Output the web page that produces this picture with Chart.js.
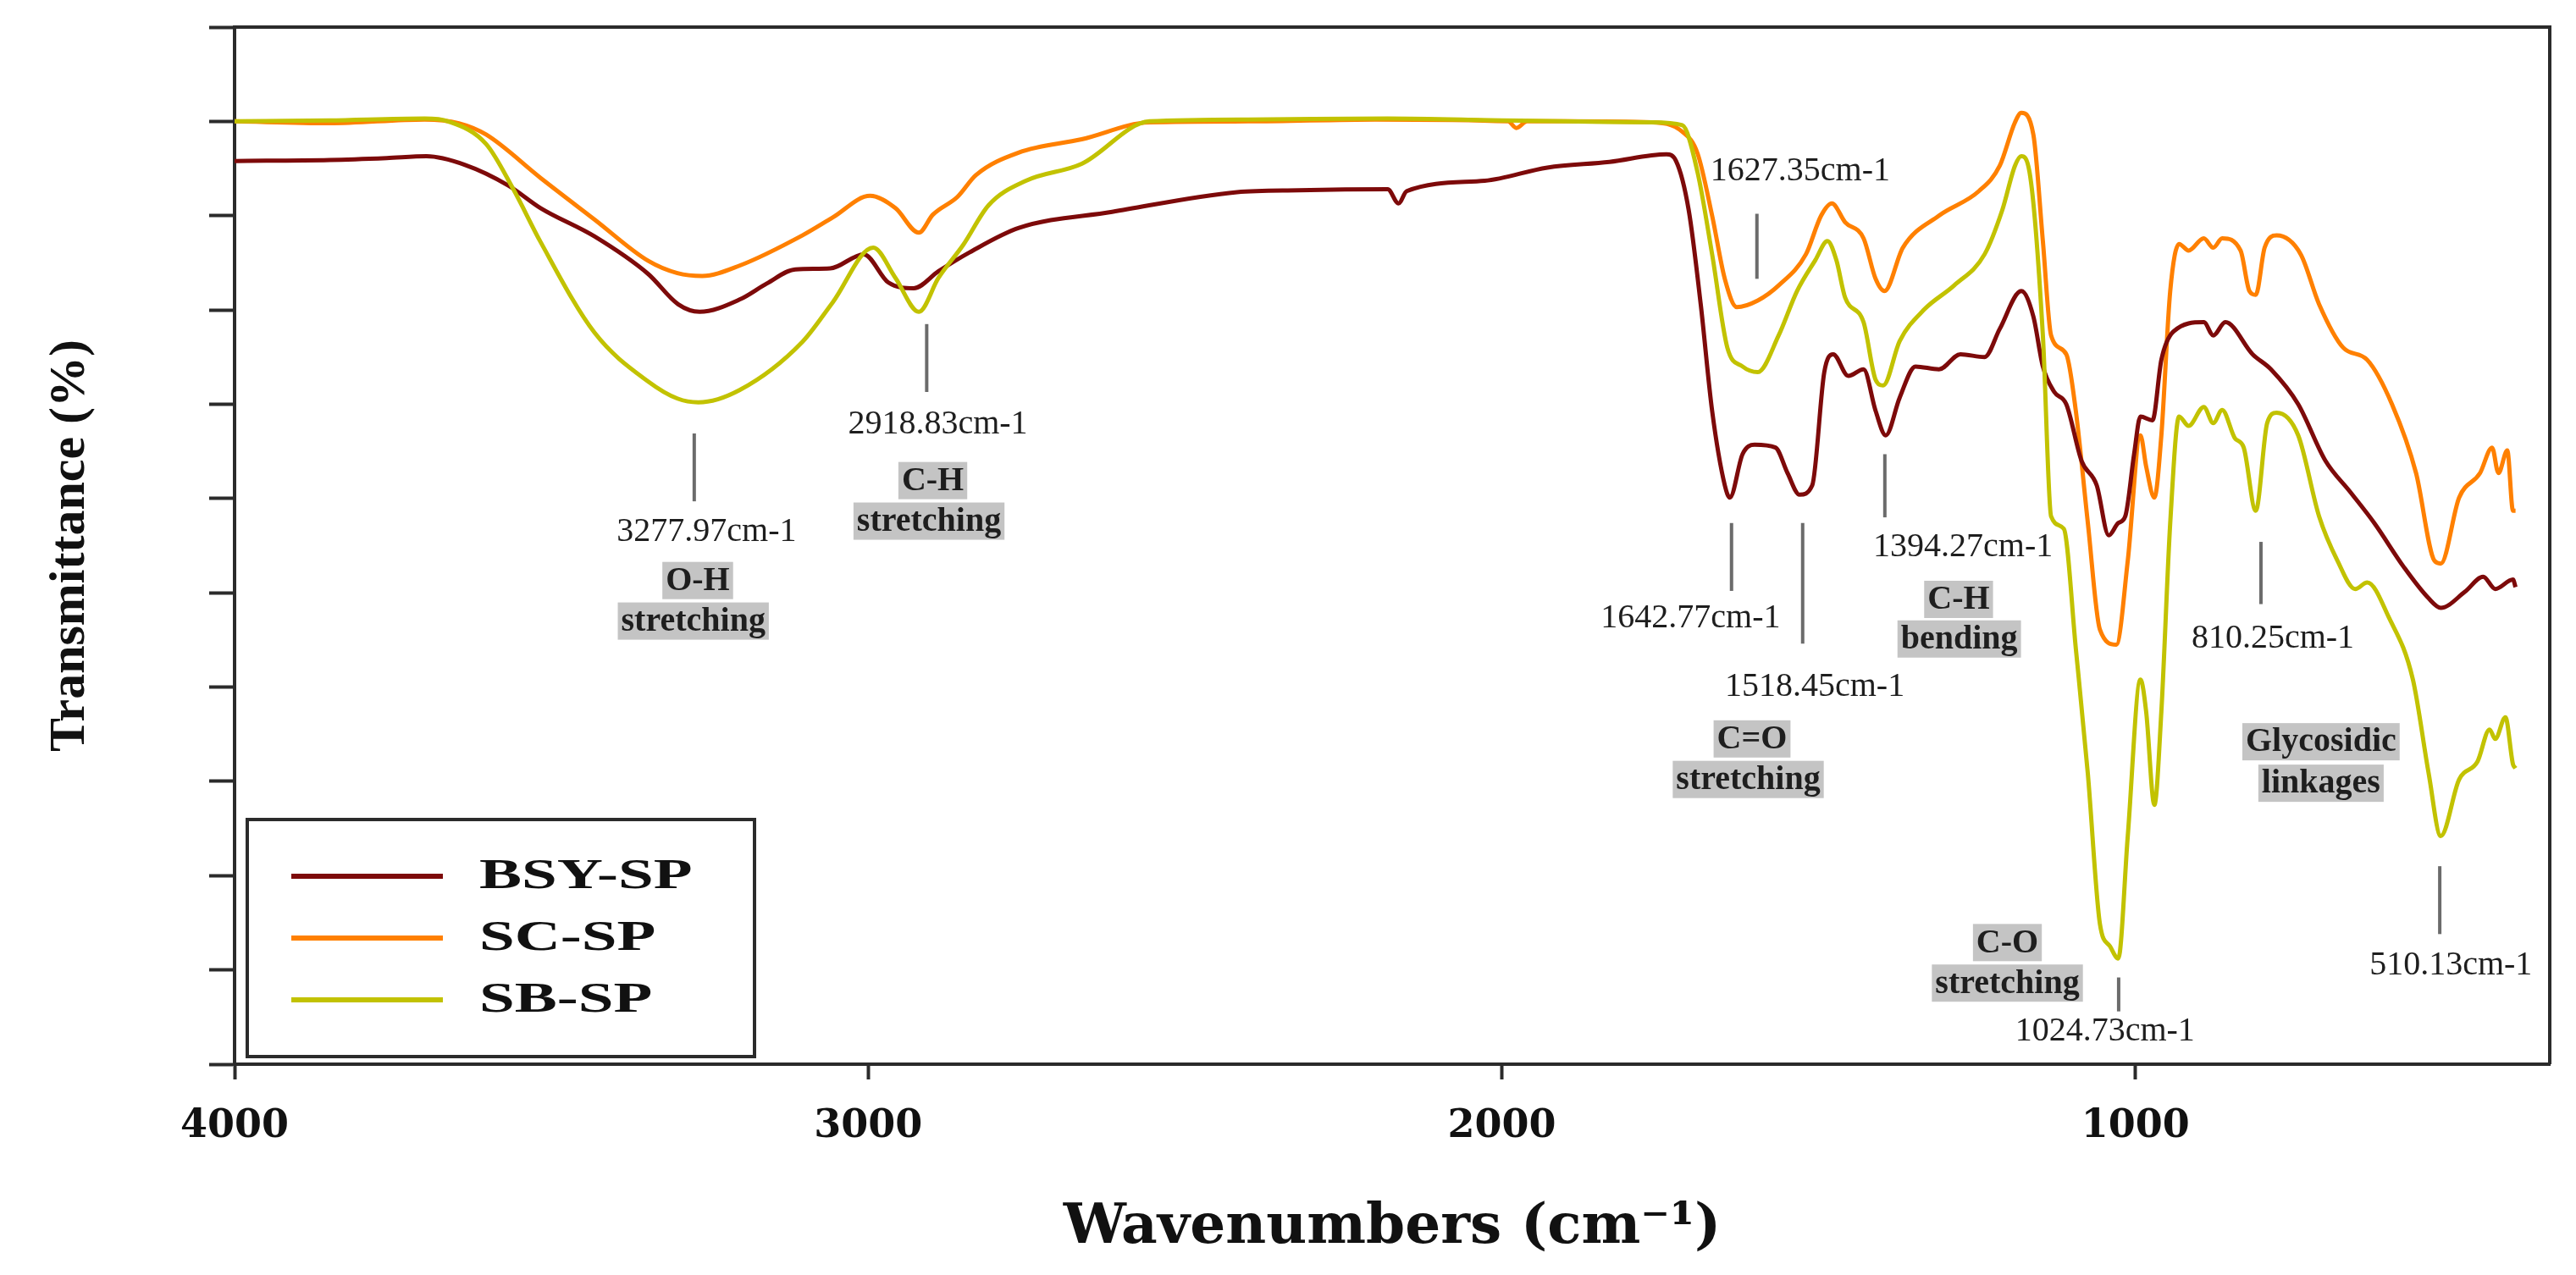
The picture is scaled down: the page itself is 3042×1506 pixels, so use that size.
<!DOCTYPE html>
<html>
<head>
<meta charset="utf-8">
<title>FTIR spectra</title>
<script src="https://cdn.jsdelivr.net/npm/chart.js@4.4.1/dist/chart.umd.min.js"></script>
<style>
    html, body { margin: 0; padding: 0; background: #ffffff; }
    #wrap { width: 3042px; height: 1506px; position: relative; }
</style>
</head>
<body>
<div id="wrap"><canvas id="ftirChart"></canvas></div>
<script>
const seriesNames = ["BSY-SP", "SC-SP", "SB-SP"];
const seriesColors = ["#7d0a0a", "#ff8000", "#c2c200"];

// BSY-SP
const bsyWavenumber = [4000, 3850, 3760, 3697, 3637, 3568, 3517, 3432, 3347, 3300, 3266, 3203, 3160, 3115, 3060, 3007, 2968, 2928, 2889, 2840, 2762, 2615, 2418, 2321, 2180, 2163, 2150, 2027, 1928, 1830, 1740, 1725, 1705, 1686, 1668, 1648, 1640, 1620, 1601, 1568, 1549, 1530, 1510, 1491, 1477, 1453, 1429, 1410, 1394, 1372, 1347, 1310, 1276, 1238, 1214, 1180, 1161, 1146, 1128, 1109, 1085, 1061, 1042, 1027, 1016, 1002, 992, 973, 959, 940, 892, 877, 858, 815, 786, 743, 700, 661, 623, 576, 537, 518, 480, 451, 432, 404, 400];
const bsyTransmittance = [95.8, 95.9, 96.1, 96.3, 95.4, 93.2, 90.8, 87.8, 83.8, 80.6, 79.8, 81.1, 82.8, 84.3, 84.4, 85.9, 82.9, 82.3, 84.1, 86.1, 88.7, 90.4, 92.5, 92.7, 92.8, 91.3, 92.6, 93.7, 95.1, 95.7, 96.5, 95.8, 90.6, 80.6, 69.3, 61.4, 60.1, 64.7, 65.7, 65.4, 62.7, 60.4, 61.4, 73.4, 75.3, 73.0, 73.7, 69.3, 66.7, 70.7, 74.0, 73.7, 75.3, 75.0, 78.0, 82.0, 79.3, 74.0, 71.3, 70.0, 64.0, 61.4, 56.1, 57.4, 58.1, 64.7, 68.7, 68.3, 74.7, 77.7, 78.7, 77.3, 78.7, 75.3, 73.7, 70.0, 64.0, 60.7, 57.4, 52.7, 49.4, 48.4, 50.1, 51.7, 50.4, 51.4, 50.6];

// SC-SP
const scWavenumber = [4000, 3850, 3700, 3646, 3603, 3517, 3432, 3347, 3301, 3262, 3203, 3104, 3056, 2997, 2957, 2920, 2898, 2859, 2830, 2762, 2663, 2556, 2400, 2200, 1990, 1977, 1960, 1900, 1763, 1715, 1691, 1668, 1648, 1629, 1596, 1563, 1520, 1496, 1479, 1458, 1429, 1410, 1396, 1367, 1310, 1247, 1214, 1190, 1180, 1161, 1146, 1133, 1109, 1094, 1075, 1056, 1030, 1012, 992, 983, 970, 959, 945, 931, 916, 892, 877, 863, 834, 820, 810, 796, 777, 739, 710, 672, 634, 595, 557, 528, 518, 489, 456, 437, 427, 413, 404, 400];
const scTransmittance = [100.0, 99.8, 100.2, 99.8, 98.6, 94.0, 89.6, 85.2, 83.9, 83.6, 84.7, 87.9, 89.8, 92.1, 90.8, 88.2, 90.1, 92.0, 94.3, 96.7, 98.1, 99.9, 100.0, 100.2, 100.0, 99.3, 100.0, 100.0, 99.9, 98.9, 96.6, 90.0, 83.3, 80.3, 81.0, 82.6, 85.9, 90.0, 91.3, 89.3, 87.6, 83.3, 82.0, 86.6, 90.0, 92.6, 95.3, 99.9, 100.9, 98.6, 87.3, 77.3, 75.3, 69.3, 57.4, 46.1, 44.5, 53.4, 66.7, 63.4, 60.1, 66.7, 82.0, 87.0, 86.3, 87.6, 86.6, 87.6, 86.3, 82.0, 81.6, 86.6, 87.9, 85.9, 80.6, 76.0, 74.7, 70.0, 62.7, 53.4, 53.1, 60.1, 62.7, 65.4, 62.7, 65.1, 58.7, 58.7];

// SB-SP
const sbWavenumber = [4000, 3850, 3700, 3663, 3603, 3560, 3517, 3432, 3347, 3301, 3268, 3203, 3104, 3056, 2992, 2957, 2920, 2889, 2850, 2810, 2751, 2663, 2556, 2400, 2180, 2000, 1900, 1763, 1715, 1691, 1668, 1644, 1620, 1596, 1563, 1534, 1505, 1486, 1472, 1458, 1429, 1410, 1398, 1372, 1334, 1286, 1238, 1210, 1190, 1180, 1167, 1146, 1133, 1113, 1094, 1075, 1056, 1040, 1027, 1012, 992, 983, 970, 959, 945, 931, 916, 892, 877, 863, 843, 829, 810, 792, 777, 743, 710, 681, 653, 634, 600, 562, 537, 518, 489, 460, 441, 432, 416, 404, 400];
const sbTransmittance = [100.0, 100.1, 100.3, 100.0, 97.6, 92.8, 87.2, 77.6, 72.4, 70.6, 70.2, 71.5, 76.6, 80.8, 86.6, 83.4, 79.8, 83.4, 86.9, 91.1, 93.7, 95.5, 100.0, 100.2, 100.3, 100.1, 100.0, 99.9, 99.6, 94.6, 85.9, 76.0, 74.0, 73.4, 77.3, 82.0, 85.3, 87.3, 85.3, 81.3, 78.7, 72.6, 72.0, 76.7, 80.0, 82.6, 85.9, 90.6, 95.3, 96.3, 94.6, 77.3, 58.1, 56.8, 44.1, 30.8, 14.9, 12.5, 11.2, 24.2, 40.8, 37.4, 27.5, 37.4, 57.4, 68.7, 67.7, 69.7, 68.0, 69.4, 66.4, 65.4, 58.7, 68.0, 69.1, 66.7, 58.1, 53.4, 50.4, 51.1, 47.4, 40.8, 30.8, 24.2, 30.2, 32.1, 35.5, 34.5, 36.8, 31.8, 31.4];

const xTickValues = [4000, 3000, 2000, 1000];
const xMin = 346;
const xMax = 4000;
const yMin = 0;
const yMax = 110;
const yStep = 10;

// short vertical lines under the marked bands
const peakMarkers = [
    { wn: 3274.5, top: 66.9, bottom: 59.7 },
    { wn: 2907.6, top: 78.5, bottom: 71.3 },
    { wn: 1597.3, top: 90.2, bottom: 83.3 },
    { wn: 1637.4, top: 57.4, bottom: 50.2 },
    { wn: 1525.1, top: 57.4, bottom: 44.6 },
    { wn: 1395.4, top: 64.7, bottom: 58.0 },
    { wn: 1026.4, top: 9.2, bottom: 5.6 },
    { wn: 801.8, top: 55.4, bottom: 48.8 },
    { wn: 519.6, top: 21.0, bottom: 13.8 }
];

const peakLabels = [
    { text: "3277.97cm-1", wn: 3255, t: 56.4 },
    { text: "2918.83cm-1", wn: 2890, t: 67.8 },
    { text: "1627.35cm-1", wn: 1529, t: 94.7 },
    { text: "1642.77cm-1", wn: 1702, t: 47.3 },
    { text: "1518.45cm-1", wn: 1506, t: 40.0 },
    { text: "1394.27cm-1", wn: 1272, t: 54.8 },
    { text: "1024.73cm-1", wn: 1048, t: 3.5 },
    { text: "810.25cm-1", wn: 783, t: 45.1 },
    { text: "510.13cm-1", wn: 502, t: 10.5 }
];

const groupLabels = [
    { text: "O-H", wn: 3269, t: 51.3 },
    { text: "stretching", wn: 3276, t: 47.0 },
    { text: "C-H", wn: 2898, t: 61.9 },
    { text: "stretching", wn: 2904, t: 57.6 },
    { text: "C=O", wn: 1605, t: 34.5 },
    { text: "stretching", wn: 1611, t: 30.2 },
    { text: "C-H", wn: 1279, t: 49.3 },
    { text: "bending", wn: 1278, t: 45.1 },
    { text: "C-O", wn: 1202, t: 12.9 },
    { text: "stretching", wn: 1202, t: 8.6 },
    { text: "Glycosidic", wn: 707, t: 34.2 },
    { text: "linkages", wn: 707, t: 29.8 }
];

const toPoints = (xs, ys) => {
    const points = [];

    for (let i = 0; i < xs.length; i++) {
        points.push({ x: xs[i], y: ys[i] });
    }

    return points;
};

const frameColor = "#2b2b2b";

const framePlugin = {
    id: "frame",
    afterDraw: (chart) => {
        const ctx = chart.ctx;
        const area = chart.chartArea;

        ctx.save();
        ctx.strokeStyle = frameColor;
        ctx.lineWidth = 4;
        ctx.beginPath();
        ctx.moveTo(area.left, area.top);
        ctx.lineTo(area.right, area.top);
        ctx.lineTo(area.right, area.bottom);
        ctx.stroke();
        ctx.restore();
    }
};

const annotationPlugin = {
    id: "peakAnnotations",
    afterDatasetsDraw: (chart) => {
        const ctx = chart.ctx;
        const xScale = chart.scales.x;
        const yScale = chart.scales.y;

        ctx.save();

        ctx.strokeStyle = "#6b6b6b";
        ctx.lineWidth = 4;

        for (let marker of peakMarkers) {
            const px = xScale.getPixelForValue(marker.wn);
            ctx.beginPath();
            ctx.moveTo(px, yScale.getPixelForValue(marker.top));
            ctx.lineTo(px, yScale.getPixelForValue(marker.bottom));
            ctx.stroke();
        }

        ctx.textAlign = "center";
        ctx.textBaseline = "middle";
        ctx.fillStyle = "#1e1e1e";
        ctx.font = "40px 'Liberation Serif'";

        for (let label of peakLabels) {
            ctx.fillText(label.text, xScale.getPixelForValue(label.wn), yScale.getPixelForValue(label.t));
        }

        ctx.font = "bold 40px 'Liberation Serif'";

        for (let label of groupLabels) {
            const px = xScale.getPixelForValue(label.wn);
            const py = yScale.getPixelForValue(label.t);
            const w = ctx.measureText(label.text).width + 8;

            ctx.fillStyle = "#c4c4c4";
            ctx.fillRect(px - w / 2, py - 22, w, 44);
            ctx.fillStyle = "#1e1e1e";
            ctx.fillText(label.text, px, py + 1);
        }

        ctx.restore();
    }
};

const legendPlugin = {
    id: "boxLegend",
    afterDraw: (chart) => {
        const ctx = chart.ctx;
        const area = chart.chartArea;
        const left = area.left + 15;
        const top = area.bottom - 289;
        const width = 599;
        const height = 280;

        ctx.save();
        ctx.fillStyle = "#ffffff";
        ctx.fillRect(left, top, width, height);
        ctx.strokeStyle = frameColor;
        ctx.lineWidth = 4;
        ctx.strokeRect(left, top, width, height);

        chart.data.datasets.forEach((dataset, i) => {
            const rowY = top + 67 + i * 73;

            ctx.strokeStyle = dataset.borderColor;
            ctx.lineWidth = 6;
            ctx.beginPath();
            ctx.moveTo(left + 52, rowY);
            ctx.lineTo(left + 231, rowY);
            ctx.stroke();

            ctx.save();
            ctx.translate(left + 274, rowY + 1);
            ctx.scale(1.5, 1);
            ctx.fillStyle = "#111111";
            ctx.font = "bold 50px 'Liberation Serif'";
            ctx.textAlign = "left";
            ctx.textBaseline = "middle";
            ctx.fillText(dataset.label, 0, 0);
            ctx.restore();
        });

        ctx.restore();
    }
};

const canvas = document.querySelector("#ftirChart");

new Chart(canvas, {
    type: "line",
    data: {
        datasets: [
            {
                label: seriesNames[0],
                data: toPoints(bsyWavenumber, bsyTransmittance),
                borderColor: seriesColors[0],
                order: 1
            },
            {
                label: seriesNames[1],
                data: toPoints(scWavenumber, scTransmittance),
                borderColor: seriesColors[1],
                order: 2
            },
            {
                label: seriesNames[2],
                data: toPoints(sbWavenumber, sbTransmittance),
                borderColor: seriesColors[2],
                order: 0
            }
        ]
    },
    options: {
        responsive: true,
        maintainAspectRatio: false,
        animation: false,
        devicePixelRatio: 1,
        layout: {
            padding: { left: 0, top: 32, right: 31, bottom: 0 }
        },
        elements: {
            point: { radius: 0 },
            line: { borderWidth: 5, fill: false, cubicInterpolationMode: "monotone" }
        },
        plugins: {
            legend: { display: false },
            tooltip: { enabled: false }
        },
        scales: {
            x: {
                type: "linear",
                reverse: true,
                min: xMin,
                max: xMax,
                afterBuildTicks: (scale) => {
                    scale.ticks = xTickValues.map((v) => ({ value: v }));
                },
                afterFit: (scale) => {
                    scale.height = 249;
                },
                ticks: {
                    autoSkip: false,
                    maxRotation: 0,
                    padding: 28,
                    color: "#111111",
                    font: { family: "'DejaVu Serif'", size: 46, weight: "bold" },
                    callback: (value) => String(value)
                },
                grid: {
                    drawOnChartArea: false,
                    drawTicks: true,
                    tickLength: 18,
                    tickWidth: 4,
                    tickColor: frameColor
                },
                border: { display: true, width: 4, color: frameColor },
                title: {
                    display: true,
                    text: "Wavenumbers (cm⁻¹)",
                    color: "#111111",
                    font: { family: "'DejaVu Serif'", size: 66, weight: "bold" },
                    padding: { top: 0, bottom: 16 }
                }
            },
            y: {
                type: "linear",
                min: yMin,
                max: yMax,
                afterFit: (scale) => {
                    scale.width = 277;
                },
                ticks: {
                    display: false,
                    stepSize: yStep
                },
                grid: {
                    drawOnChartArea: false,
                    drawTicks: true,
                    tickLength: 30,
                    tickWidth: 4,
                    tickColor: frameColor
                },
                border: { display: true, width: 4, color: frameColor },
                title: {
                    display: true,
                    text: "Transmittance (%)",
                    color: "#111111",
                    font: { family: "'Liberation Serif'", size: 60, weight: "bold" },
                    padding: { top: 47, bottom: 0 }
                }
            }
        }
    },
    plugins: [annotationPlugin, framePlugin, legendPlugin]
});
</script>
</body>
</html>
